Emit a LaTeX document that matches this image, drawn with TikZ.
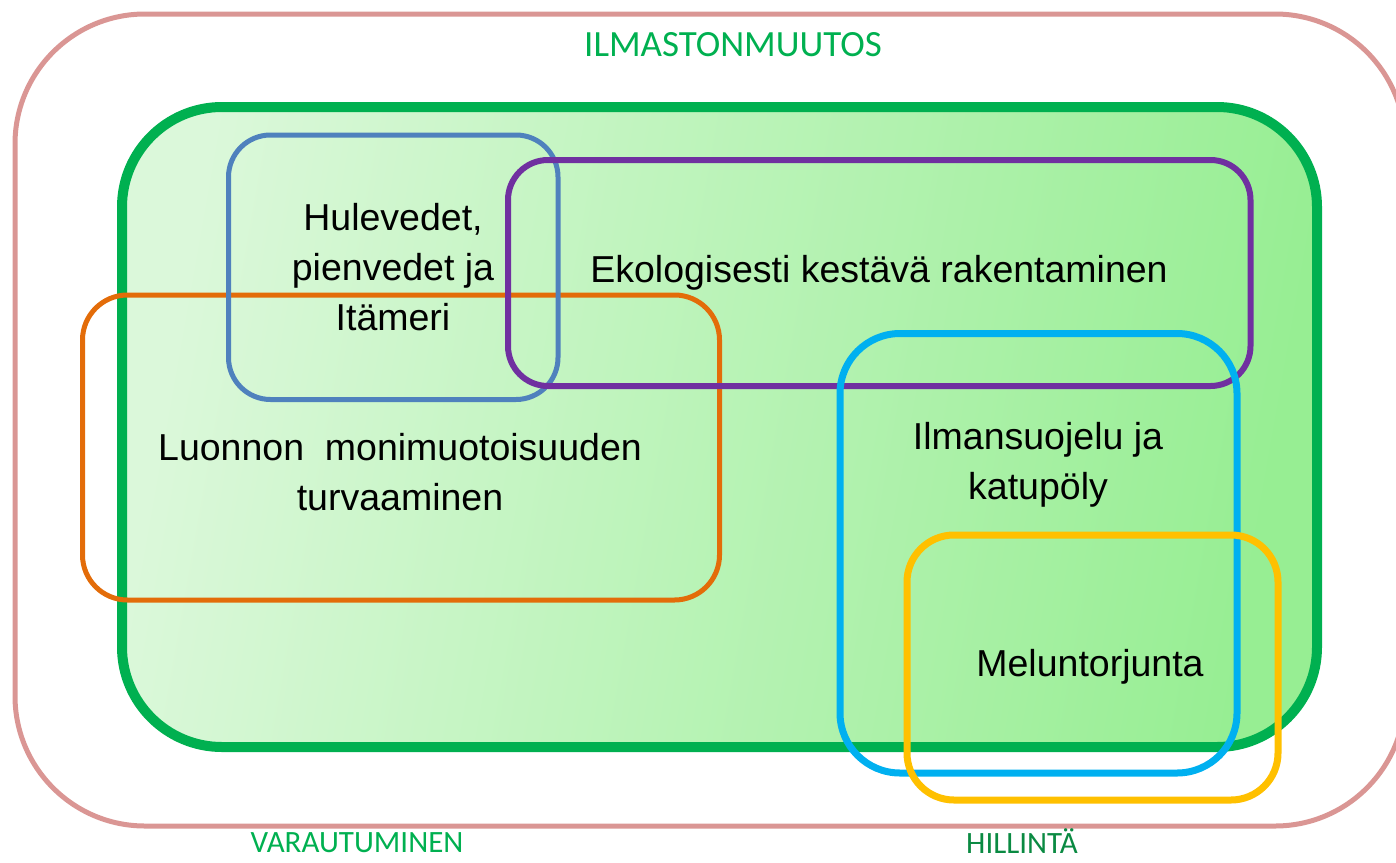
\documentclass[tikz,border=0pt]{standalone}
\usepackage{fontspec}
\setmainfont{Liberation Sans}
\newfontfamily\labelfont{Carlito}
\definecolor{pinkline}{HTML}{DA9694}
\definecolor{greenline}{HTML}{00B050}
\definecolor{darkgreenlabel}{HTML}{0A8A42}
\definecolor{blueline}{HTML}{4F81BD}
\definecolor{purpleline}{HTML}{7030A0}
\definecolor{orangeline}{HTML}{E36C09}
\definecolor{cyanline}{HTML}{00B0F0}
\definecolor{yellowline}{HTML}{FFC000}
\definecolor{fillA}{HTML}{DBF8DA}
\definecolor{fillB}{HTML}{97EE93}
\tikzset{
  frame/.style={rectangle, inner sep=0pt, outer sep=0pt},
  bodytext/.style={align=center, font=\fontsize{37.5}{50}\selectfont, text=black},
  grouplabel/.style={font=\labelfont\fontsize{37}{40}\selectfont, text=greenline, inner sep=0pt}
}
\begin{document}
\begin{tikzpicture}[x=1pt,y=-1pt]
\useasboundingbox (0,0) rectangle (1396,862);
% outer frame
\node[frame, draw=pinkline, line width=5pt, rounded corners=130pt,
  minimum width=1390pt, minimum height=812pt] (outer) at (710,420) {};
% green area
\node[frame, draw=greenline, line width=10pt, rounded corners=100pt,
  left color=fillA, right color=fillB, shading angle=80,
  minimum width=1195pt, minimum height=640pt] (green) at (719.5,427) {};
% orange
\node[frame, draw=orangeline, line width=5pt, rounded corners=45pt,
  minimum width=637pt, minimum height=305pt] (orange) at (401,447.5) {};
% blue
\node[frame, draw=blueline, line width=5pt, rounded corners=42pt,
  minimum width=329.5pt, minimum height=264.5pt] (blue) at (393.25,267.25) {};
% purple
\node[frame, draw=purpleline, line width=6pt, rounded corners=40pt,
  minimum width=742.5pt, minimum height=226pt] (purple) at (879.25,273) {};
% cyan
\node[frame, draw=cyanline, line width=7pt, rounded corners=60pt,
  minimum width=397pt, minimum height=439.5pt] (cyan) at (1038.5,553.25) {};
% yellow
\node[frame, draw=yellowline, line width=7pt, rounded corners=47pt,
  minimum width=371pt, minimum height=265pt] (yellow) at (1092.5,667.5) {};
% texts
\node[bodytext] (tblue) at (393,267) {Hulevedet,\\pienvedet ja\\Itämeri};
\node[bodytext] (tpurple) at (879,273) {Ekologisesti kestävä rakentaminen};
\node[bodytext] (torange) at (400,472) {Luonnon\ \ monimuotoisuuden\\turvaaminen};
\node[bodytext] (tcyan) at (1038,465) {Ilmansuojelu ja\\katupöly};
\node[bodytext] (tyellow) at (1090,667) {Meluntorjunta};
% group labels
\node[grouplabel] (lclimate) at (733,45) {ILMASTONMUUTOS};
\node[grouplabel, font=\labelfont\fontsize{31}{34}\selectfont] (lvar) at (357,843) {VARAUTUMINEN};
\node[grouplabel, font=\labelfont\fontsize{31}{34}\selectfont, text=darkgreenlabel] (lhil) at (1022,841) {HILLINTÄ};
\end{tikzpicture}
\end{document}
